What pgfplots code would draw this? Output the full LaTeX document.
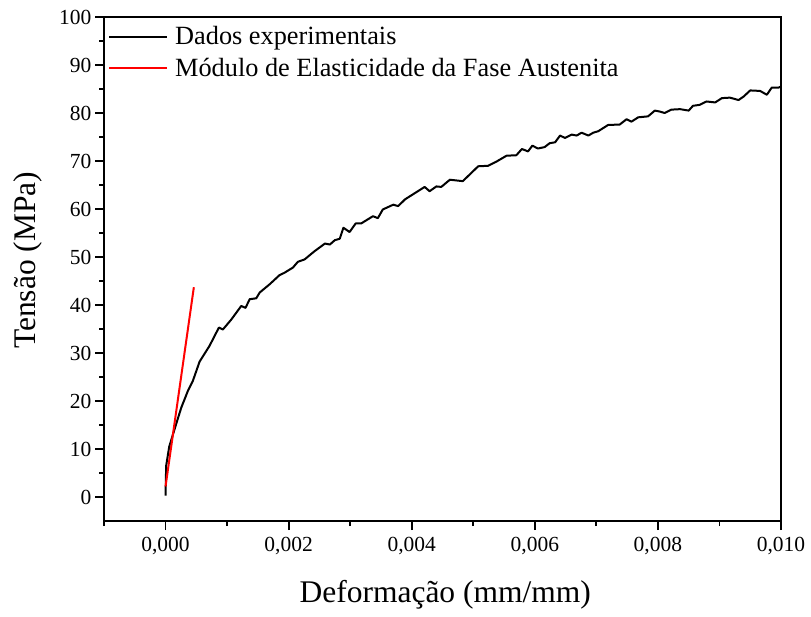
\documentclass[border=0pt]{standalone}
\usepackage{pgfplots}
\pgfplotsset{compat=1.18}
\usepackage{fontspec}
\setmainfont{Liberation Serif}
\begin{document}
\begin{tikzpicture}
\begin{axis}[
 scale only axis, width=677pt, height=504pt,
 xmin=-0.001, xmax=0.010, ymin=-5, ymax=100,
 axis line style={line width=1.8pt},
 xtick={0,0.002,0.004,0.006,0.008,0.010},
 minor xtick={-0.001,0.001,0.003,0.005,0.007,0.009},
 ytick={0,10,20,30,40,50,60,70,80,90,100},
 minor ytick={5,15,25,35,45,55,65,75,85,95},
 tick align=outside, tick pos=left,
 major tick length=9pt, minor tick length=5pt,
 every tick/.style={line width=1.8pt, black},
 scaled x ticks=false,
 x tick label style={/pgf/number format/.cd, fixed, fixed zerofill, precision=3, use comma, /tikz/.cd, yshift=-4pt},
 /pgf/number format/assume math mode=true,
 tick label style={font=\fontsize{21.5}{25}\selectfont},
 every axis x label/.style={at={(rel axis cs:0.504,0)}, yshift=-74pt, anchor=center, font=\fontsize{31.5}{36}\selectfont},
 every axis y label/.style={at={(rel axis cs:0,0.517)}, xshift=-76.5pt, rotate=90, anchor=center, font=\fontsize{31.5}{36}\selectfont},
 xlabel={Deformação (mm/mm)}, ylabel={Tensão (MPa)},
 legend style={draw=none, fill=none, at={(0,1)}, anchor=north west, xshift=2pt, yshift=-5.5pt, inner sep=2pt, row sep=8pt, font=\fontsize{26.3}{30}\selectfont,
   /tikz/every odd column/.style={column sep=5pt}},
 legend cell align=left,
 legend image code/.code={\draw[#1] (0pt,0pt) -- (58pt,0pt);},
]
\addplot[black, line width=2pt, line join=round] coordinates {
(0,0.3) (0.00001,6.5) (0.00006,10.5) (0.000146,14.1) (0.000255,18.6) (0.000363,22.1) (0.000444,24.2)
(0.000553,28.2) (0.000715,31.5) (0.000867,35.3) (0.000932,34.9) (0.00107,37.0) (0.00123,39.8)
(0.0013,39.4) (0.001366,41.2) (0.001474,41.4) (0.00153,42.6) (0.00169,44.3) (0.00185,46.2)
(0.00193,46.7) (0.00207,47.8) (0.00215,49.0) (0.00226,49.5) (0.00242,51.2) (0.00259,52.8)
(0.00267,52.6) (0.00275,53.5) (0.00283,53.8) (0.00289,56.1) (0.00299,55.2) (0.00309,57.0)
(0.00318,57.0) (0.00337,58.5) (0.00345,58.1) (0.00353,59.9) (0.0037,60.9) (0.00378,60.6)
(0.00389,62.0) (0.00405,63.3) (0.00421,64.6) (0.00429,63.7) (0.0044,64.7) (0.00448,64.6)
(0.00462,66.1) (0.00483,65.8) (0.00508,68.9) (0.00524,69.0) (0.00538,69.9) (0.00554,71.1)
(0.0057,71.2) (0.00579,72.5) (0.00589,72.0) (0.00596,73.2) (0.00605,72.6) (0.00616,72.9)
(0.00624,73.7) (0.00633,73.9) (0.00641,75.3) (0.00649,74.8) (0.0066,75.5) (0.00668,75.3)
(0.00676,75.9) (0.00687,75.3) (0.00695,75.9) (0.00703,76.2) (0.00719,77.5) (0.00738,77.6)
(0.00749,78.7) (0.00757,78.2) (0.00768,79.1) (0.00784,79.3) (0.00795,80.5) (0.00803,80.3)
(0.00811,80.0) (0.00822,80.7) (0.00836,80.8) (0.0085,80.5) (0.00857,81.5) (0.00868,81.7)
(0.00879,82.4) (0.00893,82.2) (0.00904,83.1) (0.00917,83.2) (0.00931,82.7) (0.00939,83.4)
(0.0095,84.7) (0.00966,84.6) (0.00977,83.8) (0.00985,85.3) (0.00996,85.3) (0.0100,85.5)
};
\addlegendentry{Dados experimentais}
\addplot[red, line width=2pt] coordinates {(0,2.2) (0.00046,43.7)};
\addlegendentry{Módulo de Elasticidade da Fase Austenita}
\end{axis}
\path ([xshift=-104pt,yshift=-95pt]current axis.south west) rectangle ([xshift=30pt,yshift=17pt]current axis.north east);
\end{tikzpicture}
\end{document}
